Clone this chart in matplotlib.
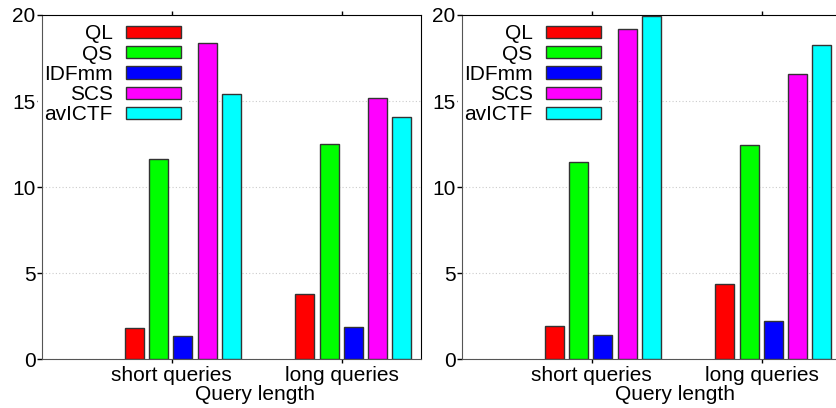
import matplotlib
matplotlib.use("Agg")
import matplotlib.pyplot as plt
import numpy as np

plt.rcParams['font.family'] = ['Liberation Sans', 'DejaVu Sans']

categories = ["short queries", "long queries"]
methods = ["QL", "QS", "IDFmm", "SCS", "avICTF"]
colors = ["#ff0000", "#00ff00", "#0000ff", "#ff00ff", "#00ffff"]

left_values = {
    "QL": [1.84, 3.81],
    "QS": [11.65, 12.52],
    "IDFmm": [1.35, 1.90],
    "SCS": [18.37, 15.17],
    "avICTF": [15.42, 14.10],
}
right_values = {
    "QL": [1.95, 4.40],
    "QS": [11.47, 12.46],
    "IDFmm": [1.43, 2.23],
    "SCS": [19.20, 16.57],
    "avICTF": [19.95, 18.27],
}
yticks = [0, 5, 10, 15, 20]

W, H = 837, 408
fig = plt.figure(figsize=(W / 100, H / 100), dpi=100)

ax_w = 379 / W
ax_b = 1 - 359.3 / H
ax_h = (359.3 - 15) / H
axes = [fig.add_axes([41.7 / W, ax_b, ax_w, ax_h]),
        fig.add_axes([461.7 / W, ax_b, ax_w, ax_h])]

x = np.array([1.0, 2.0])
width = 0.111
step = 0.142
offset0 = -0.219
FS = 15

for ax, vals in zip(axes, [left_values, right_values]):
    for i, (m, c) in enumerate(zip(methods, colors)):
        ax.bar(x + offset0 + i * step, vals[m], width, color=c,
               edgecolor="#333333", linewidth=1.0, label=m, zorder=3)
    ax.set_xlim(0.236, 2.461)
    ax.set_ylim(0, 20)
    ax.set_yticks(yticks)
    ax.set_xticks(x)
    ax.set_xticklabels(categories, fontsize=FS)
    ax.tick_params(axis='y', labelsize=FS, direction='out', length=3.5,
                   width=1, pad=1)
    ax.tick_params(axis='x', direction='out', length=3, width=1, top=True,
                   pad=1.5)
    ax.set_axisbelow(True)
    ax.yaxis.grid(True, linestyle=(0, (1, 2)), color="#cccccc", linewidth=0.8)
    ax.set_xlabel("Query length", fontsize=FS)
    ax.xaxis.set_label_coords((255 - 41.7) / 379, -0.075)
    for s in ["left", "bottom"]:
        ax.spines[s].set_color("#555555")
    ax.spines["top"].set_color("black")
    ax.spines["right"].set_color("black")
    leg = ax.legend(loc="upper right",
                    bbox_to_anchor=((187.7 - 41.7) / 379, 0.991),
                    markerfirst=False, fontsize=FS, handlelength=2.64,
                    handleheight=0.53, handletextpad=0.66, labelspacing=0.06,
                    borderpad=0.3, borderaxespad=0.0, frameon=True,
                    fancybox=False)
    leg.get_frame().set_edgecolor("none")
    leg.get_frame().set_facecolor("white")
    leg.get_frame().set_alpha(1.0)
    leg.set_zorder(2)

fig.savefig("out.png", dpi=100)
